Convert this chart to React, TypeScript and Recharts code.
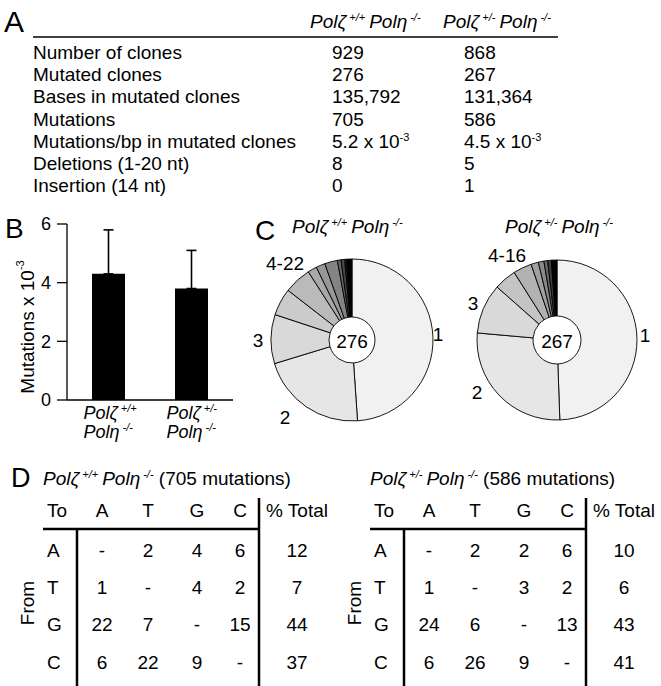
import { BarChart, Bar, XAxis, YAxis, ErrorBar, PieChart, Pie, Cell } from "recharts";

const FONT = "'Liberation Sans', Arial, Helvetica, sans-serif";

// Panel A table
const rowLabels = [
  "Number of clones",
  "Mutated clones",
  "Bases in mutated clones",
  "Mutations",
  "Mutations/bp in mutated clones",
  "Deletions (1-20 nt)",
  "Insertion (14 nt)",
];
const wtValues = ["929", "276", "135,792", "705", "5.2 x 10", "8", "0"];
const hetValues = ["868", "267", "131,364", "586", "4.5 x 10", "5", "1"];
const valueExponent = ["", "", "", "", "-3", "", ""];

// Panel B bars
const barGenotypes = ["+/+", "+/-"];
const mutFreq = [4.3, 3.8];
const mutFreqErr = [1.5, 1.3];
const freqTicks = [0, 2, 4, 6];

// Panel C pies: clones grouped by mutations per clone (1, 2, 3, then 4-22 / 4-16)
const clonesWt = [135, 59, 27, 15, 15, 5, 5, 7, 2, 2, 1, 3];
const clonesHet = [132, 72, 27, 12, 10, 4, 3, 2, 2, 3];
const pieTotals = ["276", "267"];
const groupLabelsWt = ["1", "2", "3", "4-22"];
const groupLabelsHet = ["1", "2", "3", "4-16"];

// Panel D spectra
const bases = ["A", "T", "G", "C"];
const spectrumWt = [
  ["-", "2", "4", "6"],
  ["1", "-", "4", "2"],
  ["22", "7", "-", "15"],
  ["6", "22", "9", "-"],
];
const totalWt = ["12", "7", "44", "37"];
const spectrumHet = [
  ["-", "2", "2", "6"],
  ["1", "-", "3", "2"],
  ["24", "6", "-", "13"],
  ["6", "26", "9", "-"],
];
const totalHet = ["10", "6", "43", "41"];

const shadesWt = ["#f1f1f1", "#e6e6e6", "#d9d9d9", "#cbcbcb", "#bababa", "#a8a8a8", "#979797", "#848484", "#666666", "#474747", "#2a2a2a", "#000000"];
const shadesHet = ["#f1f1f1", "#e6e6e6", "#d9d9d9", "#c4c4c4", "#b2b2b2", "#a0a0a0", "#8a8a8a", "#6a6a6a", "#3c3c3c", "#000000"];

const barData = barGenotypes.map((g, i) => ({ name: g, value: mutFreq[i], err: [0, mutFreqErr[i]] }));
const pieWt = clonesWt.map((v, i) => ({ name: String(i + 1), value: v }));
const pieHet = clonesHet.map((v, i) => ({ name: String(i + 1), value: v }));

function Geno({ x, y, zeta, eta, size = 19, tail = "" }: any) {
  const sup = Math.round(size * 0.58);
  const rise = Math.round(size * 0.38);
  return (
    <text x={x} y={y} fontSize={size} fontFamily={FONT} fill="#000">
      <tspan fontStyle="italic">Polζ</tspan>
      <tspan dx={3} dy={-rise} fontSize={sup} fontStyle="italic">{zeta}</tspan>
      <tspan dx={4} dy={rise} fontStyle="italic">Polη</tspan>
      <tspan dx={3} dy={-rise} fontSize={sup} fontStyle="italic">{eta}</tspan>
      {tail && <tspan dy={rise}>{tail}</tspan>}
    </text>
  );
}

function BarTick({ x, y, payload }: any) {
  return (
    <g>
      <text x={x - 25} y={y + 19} fontSize={18} fontFamily={FONT} fontStyle="italic" fill="#000">
        <tspan>Polζ</tspan>
        <tspan dx={3} dy={-7} fontSize={11}>{payload.value}</tspan>
      </text>
      <text x={x - 25} y={y + 38} fontSize={18} fontFamily={FONT} fontStyle="italic" fill="#000">
        <tspan>Polη</tspan>
        <tspan dx={3} dy={-7} fontSize={11}>-/-</tspan>
      </text>
    </g>
  );
}

function Spectrum({ left, title, data, totals }: any) {
  // left = x of the title start
  const cols = [left + 59, left + 105, left + 154, left + 197];
  const divider = left + 216;
  const totalX = left + 254;
  const rowY = [550, 587, 624, 662];
  return (
    <g fontFamily={FONT} fontSize={19} fill="#000">
      {title}
      <text x={left + 4} y={517}>To</text>
      {bases.map((b, i) => (
        <text key={b} x={cols[i]} y={517} textAnchor="middle">{b}</text>
      ))}
      <text x={totalX} y={517} textAnchor="middle">% Total</text>
      <line x1={left} x2={divider} y1={529} y2={529} stroke="#000" strokeWidth={2.5} />
      <line x1={divider} x2={divider} y1={498} y2={686} stroke="#000" strokeWidth={2.5} />
      <line x1={left + 34} x2={left + 34} y1={529} y2={686} stroke="#000" strokeWidth={2.5} />
      <text transform={`rotate(-90 ${left - 16} 603)`} x={left - 16} y={603} textAnchor="middle" dominantBaseline="central">From</text>
      {bases.map((b, r) => (
        <g key={b}>
          <text x={left + 4} y={rowY[r] + 7}>{b}</text>
          {data[r].map((v: string, c: number) => (
            <text key={c} x={cols[c]} y={rowY[r] + 7} textAnchor="middle">{v}</text>
          ))}
          <text x={totalX} y={rowY[r] + 7} textAnchor="middle">{totals[r]}</text>
        </g>
      ))}
    </g>
  );
}

export default function App() {
  return (
    <div style={{ position: "absolute", left: 0, top: 0, width: 661, height: 686, background: "#fff", fontFamily: FONT }}>
      <div style={{ position: "absolute", left: 0, top: 210 }}>
        <BarChart width={240} height={240} data={barData} margin={{ top: 14, right: 7, bottom: 5, left: 0 }}>
          <XAxis
            dataKey="name"
            axisLine={{ stroke: "#000", strokeWidth: 1.3 }}
            tickLine={false}
            tickSize={0}
            tickMargin={0}
            height={45}
            interval={0}
            tick={<BarTick />}
          />
          <YAxis
            type="number"
            domain={[0, 6]}
            ticks={freqTicks}
            width={67}
            tickSize={10}
            tickMargin={6}
            axisLine={{ stroke: "#000", strokeWidth: 1.3 }}
            tickLine={{ stroke: "#000", strokeWidth: 1.3 }}
            tick={{ fill: "#000", fontSize: 18, fontFamily: FONT }}
          />
          <Bar dataKey="value" fill="#000" barSize={33} isAnimationActive={false}>
            <ErrorBar dataKey="err" width={5} stroke="#000" strokeWidth={1.6} />
          </Bar>
        </BarChart>
      </div>

      <div style={{ position: "absolute", left: 262, top: 250 }}>
        <PieChart width={180} height={180} margin={{ top: 0, right: 0, bottom: 0, left: 0 }}>
          <Pie data={pieWt} dataKey="value" cx={90} cy={90} innerRadius={23} outerRadius={81} startAngle={90} endAngle={-270} stroke="#000" strokeWidth={0.9} isAnimationActive={false}>
            {pieWt.map((d, i) => (
              <Cell key={d.name} fill={shadesWt[i]} />
            ))}
          </Pie>
        </PieChart>
      </div>

      <div style={{ position: "absolute", left: 467, top: 250 }}>
        <PieChart width={180} height={180} margin={{ top: 0, right: 0, bottom: 0, left: 0 }}>
          <Pie data={pieHet} dataKey="value" cx={90} cy={90} innerRadius={24} outerRadius={80} startAngle={90} endAngle={-270} stroke="#000" strokeWidth={0.9} isAnimationActive={false}>
            {pieHet.map((d, i) => (
              <Cell key={d.name} fill={shadesHet[i]} />
            ))}
          </Pie>
        </PieChart>
      </div>

      <svg width={661} height={686} style={{ position: "absolute", left: 0, top: 0, pointerEvents: "none" }}>
        <g fontFamily={FONT} fill="#000">
          {/* panel letters */}
          <text x={4} y={32} fontSize={30}>A</text>
          <text x={5} y={238} fontSize={28}>B</text>
          <text x={255} y={240} fontSize={28}>C</text>
          <text x={11} y={487} fontSize={27}>D</text>

          {/* A */}
          <Geno x={310} y={28} zeta="+/+" eta="-/-" />
          <Geno x={443} y={28} zeta="+/-" eta="-/-" />
          <line x1={33} x2={558} y1={37} y2={37} stroke="#000" strokeWidth={1.3} />
          {rowLabels.map((lab, i) => {
            const y = 52 + i * 22.2 + 7;
            return (
              <g key={lab} fontSize={19}>
                <text x={33} y={y}>{lab}</text>
                <text x={332} y={y}>
                  {wtValues[i]}
                  {valueExponent[i] && <tspan dy={-7} fontSize={11}>{valueExponent[i]}</tspan>}
                </text>
                <text x={464} y={y}>
                  {hetValues[i]}
                  {valueExponent[i] && <tspan dy={-7} fontSize={11}>{valueExponent[i]}</tspan>}
                </text>
              </g>
            );
          })}

          {/* B axis title */}
          <text transform="rotate(-90 27 327)" x={27} y={327} fontSize={19} textAnchor="middle" dominantBaseline="central">
            Mutations x 10<tspan dy={-7} fontSize={11}>-3</tspan>
          </text>

          {/* C */}
          <Geno x={292} y={233} zeta="+/+" eta="-/-" />
          <Geno x={505} y={233} zeta="+/-" eta="-/-" />
          <g fontSize={19} textAnchor="middle" dominantBaseline="central">
            <text x={352} y={341}>{pieTotals[0]}</text>
            <text x={557} y={341}>{pieTotals[1]}</text>
            <text x={438} y={334}>{groupLabelsWt[0]}</text>
            <text x={285} y={417}>{groupLabelsWt[1]}</text>
            <text x={258} y={340}>{groupLabelsWt[2]}</text>
            <text x={285} y={263}>{groupLabelsWt[3]}</text>
            <text x={645} y={335}>{groupLabelsHet[0]}</text>
            <text x={477} y={392}>{groupLabelsHet[1]}</text>
            <text x={473} y={303}>{groupLabelsHet[2]}</text>
            <text x={507} y={255}>{groupLabelsHet[3]}</text>
          </g>

          {/* D */}
          <Spectrum left={43} data={spectrumWt} totals={totalWt} title={<Geno x={43} y={485} zeta="+/+" eta="-/-" tail=" (705 mutations)" />} />
          <Spectrum left={370} data={spectrumHet} totals={totalHet} title={<Geno x={370} y={485} zeta="+/-" eta="-/-" tail=" (586 mutations)" />} />
        </g>
      </svg>
    </div>
  );
}
